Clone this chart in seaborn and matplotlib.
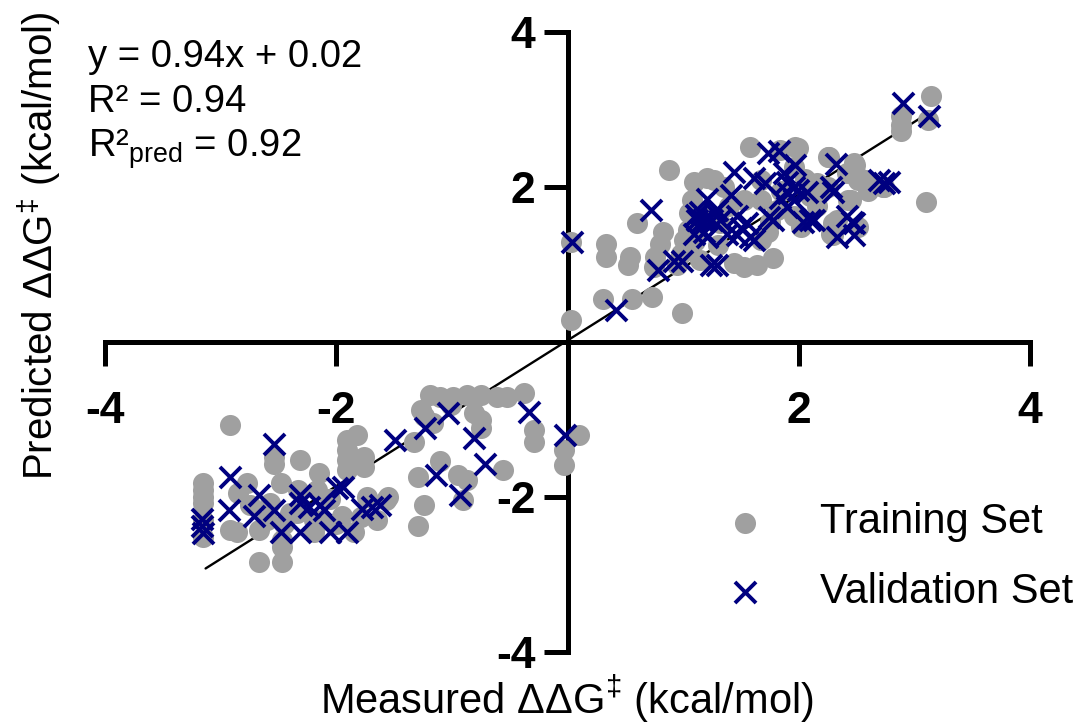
import numpy as np
import matplotlib.pyplot as plt
import seaborn as sns

# Training set (grey circles)
train_x = [3.14, 2.88, 2.88, 2.88, 3.12, 3.10, 1.58, 1.97, 2.25, 2.48, 0.88, 1.21, 1.09, 1.35,
           2.51, 2.59, 2.74, 2.45, 1.08, 1.05, 1.53, 1.67, 2.10, 2.16, 1.81, 1.96, 0.60, 0.83,
           0.80, 0.33, 0.33, 0.54, 0.52, 0.76, 1.04, 1.01, 0.98, 1.15, 1.44, 1.53, 1.64, 1.78,
           1.67, 1.73, 2.02, 2.30, 2.33, 2.51, 0.31, 0.56, 0.73, 0.99, 0.03, 0.03, 1.32, 1.96,
           2.42, 1.84, 1.27, 1.67, 2.16, 1.40, 1.20, 1.85, 2.25, 1.30, 0.95, 1.10, 2.05, 2.60,
           1.75, 0.75, 1.99, 2.26, 2.49, 2.51, 2.43, 2.30, 2.28, 2.16, 2.73,
           -2.92, -3.15, -3.15, -3.15, -3.15, -3.15, -2.77, -2.54, -2.54, -2.31, -2.48, -2.92,
           -2.86, -2.67, -2.67, -2.47, -2.47, -2.47, -2.57, -2.17, -2.15, -1.91, -1.91, -1.91,
           -1.91, -1.82, -1.76, -1.76, -2.19, -2.19, -1.85, -1.73, -1.55, -1.65, -2.05, -2.34,
           -1.29, -1.24, -1.29, -1.10, -0.95, -0.87, -0.90, -0.56, -1.33, -1.19, -1.10, -1.27,
           -1.24, -1.16, -0.87, -0.75, -0.61, -0.52, -0.38, -0.81, -0.75, -0.75, -0.29, -0.29,
           0.10, -0.03, -0.03, -0.99, -1.01, -1.57, -2.60, -2.40, -1.95, -2.00, -2.75, -3.15,
           -2.85, -2.45, -2.33, -2.12, -1.79]
train_y = [3.17, 2.91, 2.80, 2.72, 2.86, 1.81, 2.52, 2.52, 2.39, 2.31, 2.22, 2.11, 2.07, 2.00,
           2.13, 2.09, 2.00, 1.83, 1.83, 1.66, 1.83, 1.83, 1.88, 1.75, 1.70, 1.62, 1.53, 1.42,
           1.27, 1.27, 1.10, 1.10, 0.99, 1.10, 1.45, 1.32, 1.14, 1.06, 1.02, 0.97, 0.99, 1.08,
           1.32, 1.42, 1.49, 1.38, 1.57, 1.49, 0.56, 0.56, 0.58, 0.37, 0.28, 1.29, 1.53, 2.26,
           2.18, 2.48, 2.09, 2.09, 2.05, 1.75, 1.60, 1.95, 2.00, 1.25, 1.00, 1.30, 2.10, 1.95,
           1.55, 0.97, 2.50, 2.39, 2.28, 2.09, 1.83, 1.53, 1.40, 1.92, 2.00,
           -1.07, -1.82, -1.91, -2.00, -2.08, -2.51, -1.82, -1.48, -1.57, -1.52, -1.82, -2.43,
           -2.45, -2.43, -2.84, -2.84, -2.64, -2.55, -2.08, -1.91, -1.69, -1.26, -1.39, -1.52,
           -1.65, -1.20, -1.48, -1.61, -2.30, -2.45, -2.45, -2.00, -2.00, -2.30, -2.02, -2.21,
           -2.38, -2.10, -1.74, -1.54, -1.72, -1.78, -2.04, -1.65, -1.29, -0.68, -0.71, -0.88,
           -0.96, -1.05, -0.68, -0.68, -0.71, -0.71, -0.66, -0.92, -1.01, -1.11, -1.14, -1.29,
           -1.20, -1.39, -1.59, -0.71, -0.81, -2.04, -2.30, -2.20, -2.25, -2.35, -2.10, -2.30,
           -1.95, -2.35, -1.91, -2.30, -2.26]

# Validation set (navy crosses)
val_x = [2.90, 3.13, 1.73, 1.83, 1.44, 1.97, 2.32, 1.61, 1.71, 1.90, 1.96, 2.07, 2.28, 2.30,
         2.69, 2.78, 1.21, 1.41, 1.96, 0.72, 1.15, 1.29, 1.12, 1.25, 1.47, 1.55, 1.78, 2.04,
         2.13, 2.42, 2.48, 1.09, 1.21, 1.47, 1.61, 2.33, 2.48, 0.78, 0.92, 0.99, 1.24, 1.29,
         0.42, 0.04, 1.11, 1.17, 1.27, 1.18, 1.32, 1.50, 1.58, 1.38, 1.91, 1.87, 1.99, 1.90,
         1.74, 1.84, 2.10, 2.46, 2.74,
         -3.16, -3.16, -3.15, -2.54, -2.92, -2.93, -2.67, -2.71, -2.54, -2.48, -2.31, -2.31,
         -2.31, -2.24, -2.14, -2.11, -2.05, -1.99, -1.94, -1.91, -1.78, -1.69, -1.62, -1.49,
         -1.23, -1.03, -0.81, -0.71, -1.14, -0.93, -0.33, -0.02]
val_y = [3.09, 2.91, 2.44, 2.46, 2.20, 2.28, 2.30, 2.12, 2.05, 2.07, 2.00, 1.94, 2.00, 1.94,
         2.09, 2.07, 1.85, 1.90, 1.83, 1.70, 1.68, 1.70, 1.57, 1.57, 1.62, 1.53, 1.57, 1.55,
         1.57, 1.62, 1.53, 1.40, 1.36, 1.38, 1.32, 1.36, 1.38, 0.93, 1.04, 1.04, 0.99, 0.99,
         0.41, 1.29, 1.64, 1.57, 1.68, 1.42, 1.57, 1.47, 1.36, 1.40, 1.92, 2.18, 1.96, 1.74,
         1.61, 1.86, 1.57, 1.55, 2.05,
         -2.28, -2.38, -2.47, -1.31, -1.74, -2.17, -1.97, -2.25, -2.17, -2.45, -1.97, -2.08,
         -2.45, -2.13, -2.10, -2.17, -2.45, -1.89, -1.87, -2.45, -2.15, -2.13, -2.10, -1.26,
         -1.11, -0.92, -1.24, -1.57, -1.72, -1.97, -0.90, -1.20]

# Linear fit shown on the chart
slope, intercept = 0.94, 0.02
fit_range = [-3.13, 3.14]
ticks = [-4, -2, 2, 4]
tick_labels = ['-4', '-2', '2', '4']

sns.set_style('white')
plt.rcParams['font.family'] = ['Liberation Sans', 'DejaVu Sans']
plt.rcParams['mathtext.fontset'] = 'custom'
plt.rcParams['mathtext.rm'] = 'Liberation Sans'
plt.rcParams['mathtext.it'] = 'Liberation Sans:italic'
plt.rcParams['mathtext.bf'] = 'Liberation Sans:bold'
plt.rcParams['axes.unicode_minus'] = False
plt.rcParams['text.color'] = 'black'
plt.rcParams['axes.labelcolor'] = 'black'

fig = plt.figure(figsize=(10.79, 7.24), dpi=100)
ax = fig.add_axes([105 / 1079, 72 / 724, 925 / 1079, 620 / 724])

fit_x = np.array(fit_range)
ax.plot(fit_x, slope * fit_x + intercept, color='black', lw=1.7, zorder=2.8)

sns.scatterplot(x=train_x, y=train_y, ax=ax, color='#a0a0a0', s=230, linewidth=0,
                marker='o', label='Training Set', zorder=3)
sns.scatterplot(x=val_x, y=val_y, ax=ax, color='#000080', s=230, linewidth=2.8,
                marker='x', label='Validation Set', zorder=3.1)

ax.set_xlim(-4, 4)
ax.set_ylim(-4, 4)

# axes crossing at the origin
for side in ['top', 'right']:
    ax.spines[side].set_visible(False)
for side in ['left', 'bottom']:
    ax.spines[side].set_position(('data', 0))
    ax.spines[side].set_linewidth(3.6)
    ax.spines[side].set_color('black')

ax.set_xticks(ticks, labels=tick_labels, fontweight='bold')
ax.set_yticks(ticks, labels=tick_labels, fontweight='bold')
ax.tick_params(axis='both', bottom=True, left=True, direction='out', length=17, width=3.6,
               labelsize=32, colors='black')
ax.tick_params(axis='x', pad=18)
ax.tick_params(axis='y', pad=6)

fig.text(567 / 1079, 1 - 714 / 724, 'Measured ΔΔG$^{‡}$ (kcal/mol)', fontsize=30,
         ha='center', va='baseline')
ax.set_ylabel('Predicted ΔΔG$^{‡}$ (kcal/mol)', fontsize=29)
ax.yaxis.set_label_coords(-0.045, 0.655)

fig.text(88 / 1079, 1 - 67 / 724, 'y = 0.94x + 0.02', fontsize=27.5, va='baseline')
fig.text(88 / 1079, 1 - 112 / 724, 'R² = 0.94', fontsize=27.5, va='baseline')
fig.text(88 / 1079, 1 - 157 / 724, 'R²$_{\\mathrm{pred}}$ = 0.92', fontsize=27.5, va='baseline')

ax.legend(loc='upper left', bbox_to_anchor=(666 / 1079, 1 - 465 / 724),
          bbox_transform=fig.transFigure, frameon=False, fontsize=30,
          handletextpad=0.8, labelspacing=0.7, handlelength=2, borderpad=0.4)

fig.savefig('out.png', dpi=100)
